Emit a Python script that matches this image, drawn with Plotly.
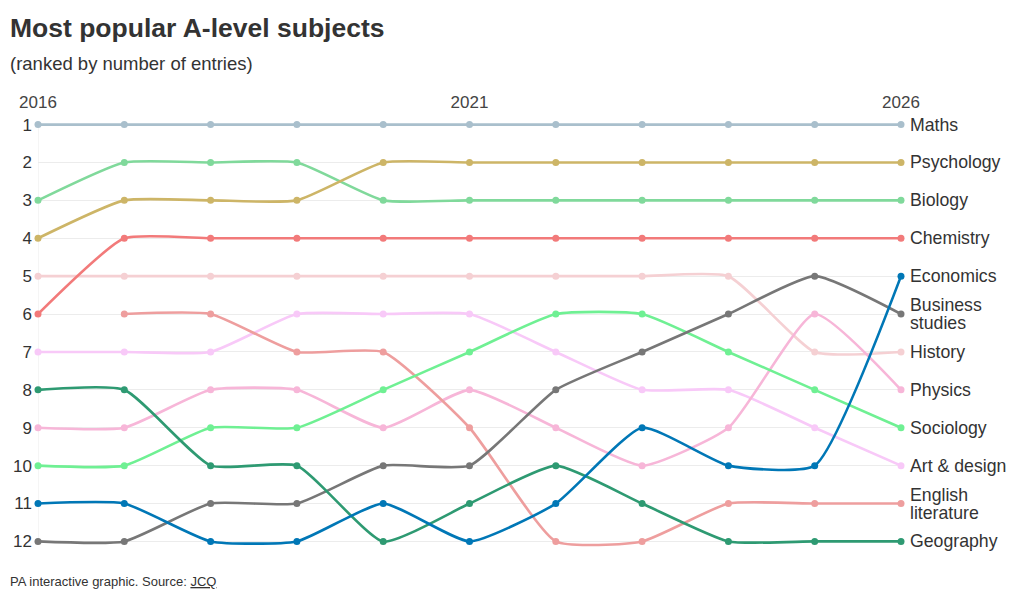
import plotly.graph_objects as go

years = list(range(2016, 2027))

subjects = [
    "Maths", "Psychology", "Biology", "Chemistry", "Economics", "Business\nstudies",
    "History", "Physics", "Sociology", "Art & design", "English\nliterature", "Geography",
]

ranks = {
    "Maths":              [1, 1, 1, 1, 1, 1, 1, 1, 1, 1, 1],
    "Psychology":         [4, 3, 3, 3, 2, 2, 2, 2, 2, 2, 2],
    "Biology":            [3, 2, 2, 2, 3, 3, 3, 3, 3, 3, 3],
    "Chemistry":          [6, 4, 4, 4, 4, 4, 4, 4, 4, 4, 4],
    "Economics":          [11, 11, 12, 12, 11, 12, 11, 9, 10, 10, 5],
    "Business\nstudies":  [12, 12, 11, 11, 10, 10, 8, 7, 6, 5, 6],
    "History":            [5, 5, 5, 5, 5, 5, 5, 5, 5, 7, 7],
    "Physics":            [9, 9, 8, 8, 9, 8, 9, 10, 9, 6, 8],
    "Sociology":          [10, 10, 9, 9, 8, 7, 6, 6, 7, 8, 9],
    "Art & design":       [7, 7, 7, 6, 6, 6, 7, 8, 8, 9, 10],
    "English\nliterature": [None, 6, 6, 7, 7, 9, 12, 12, 11, 11, 11],
    "Geography":          [8, 8, 10, 10, 12, 11, 10, 11, 12, 12, 12],
}

colours = {
    "Maths": "#a9bfcc",
    "Psychology": "#cdb567",
    "Biology": "#80d99b",
    "Chemistry": "#f27a7a",
    "Economics": "#0077b6",
    "Business\nstudies": "#777777",
    "History": "#f5d0d3",
    "Physics": "#f7b6d8",
    "Sociology": "#6ff093",
    "Art & design": "#f8c9f8",
    "English\nliterature": "#ee9e9e",
    "Geography": "#2e9a72",
}

tick_years = [2016, 2021, 2026]
rank_ticks = list(range(1, 13))

FONT = "Liberation Sans, Arial, sans-serif"
TEXT = "#333333"

# the page body adds an 8px offset, so the figure is laid out 8px smaller
# plot box: 2016..2026 spans x 30..893, rank 1..12 spans y 117..533 (figure px)
PAD = 0.2
plot_w = 863
plot_h = 416 * (11 + 2 * PAD) / 11
top = 117 - 416 * PAD / 11
bottom = 594 - (533 + 416 * PAD / 11)

fig = go.Figure()

# light lines first so the darker ones sit on top
draw_order = [
    "History", "Art & design", "Physics", "English\nliterature", "Maths", "Biology",
    "Sociology", "Psychology", "Chemistry", "Business\nstudies", "Geography", "Economics",
]
for name in draw_order:
    fig.add_trace(
        go.Scatter(
            x=years,
            y=ranks[name],
            mode="lines+markers",
            line=dict(color=colours[name], width=2.6, shape="spline", smoothing=0.5),
            marker=dict(color=colours[name], size=7),
            cliponaxis=False,
            connectgaps=False,
            showlegend=False,
            hoverinfo="skip",
        )
    )

# end labels, split over lines so the line spacing can be kept tight
for name in subjects:
    lines = name.split("\n")
    final = ranks[name][-1]
    n = len(lines)
    for i, text in enumerate(lines):
        fig.add_annotation(
            x=years[-1], y=final, xref="x", yref="y",
            text=text, showarrow=False,
            xanchor="left", yanchor="middle",
            xshift=7, yshift=(n - 1) * 9 - i * 18,
            font=dict(family=FONT, size=17.7, color=TEXT),
        )

# left edge rule at the first year
fig.add_shape(
    type="line", xref="x", yref="y",
    x0=years[0], x1=years[0], y0=rank_ticks[0], y1=rank_ticks[-1],
    line=dict(color="#ececec", width=1), layer="below",
)

fig.add_annotation(
    x=-30 / plot_w, y=1 + (top - 21) / plot_h, xref="paper", yref="paper",
    xanchor="left", yanchor="middle", showarrow=False,
    text="<b>Most popular A-level subjects</b>",
    font=dict(family=FONT, size=26.5, color=TEXT),
)
fig.add_annotation(
    x=-30 / plot_w, y=1 + (top - 56) / plot_h, xref="paper", yref="paper",
    xanchor="left", yanchor="middle", showarrow=False,
    text="(ranked by number of entries)",
    font=dict(family=FONT, size=18.5, color=TEXT),
)
fig.add_annotation(
    x=-30 / plot_w, y=-(573 - (594 - bottom)) / plot_h, xref="paper", yref="paper",
    xanchor="left", yanchor="middle", showarrow=False,
    text="PA interactive graphic. Source: <u>JCQ</u>",
    font=dict(family=FONT, size=13, color=TEXT),
)

fig.update_layout(
    width=1012, height=594,
    margin=dict(l=30, r=119, t=top, b=bottom),
    paper_bgcolor="white", plot_bgcolor="white",
    font=dict(family=FONT, color=TEXT),
    xaxis=dict(
        range=[years[0], years[-1]], side="top",
        tickvals=tick_years, ticktext=[str(y) for y in tick_years],
        tickfont=dict(size=17, color="#444444"), ticks="", ticklabelstandoff=5,
        showgrid=False, zeroline=False, showline=False, fixedrange=True, automargin=False,
    ),
    yaxis=dict(
        range=[12 + PAD, 1 - PAD], tickvals=rank_ticks, ticktext=[str(r) for r in rank_ticks],
        tickfont=dict(size=17, color=TEXT), ticks="", ticklabelstandoff=5,
        showgrid=True, gridcolor="#ececec", gridwidth=1,
        zeroline=False, showline=False, fixedrange=True, automargin=False,
    ),
)

fig.write_html("out.html")
